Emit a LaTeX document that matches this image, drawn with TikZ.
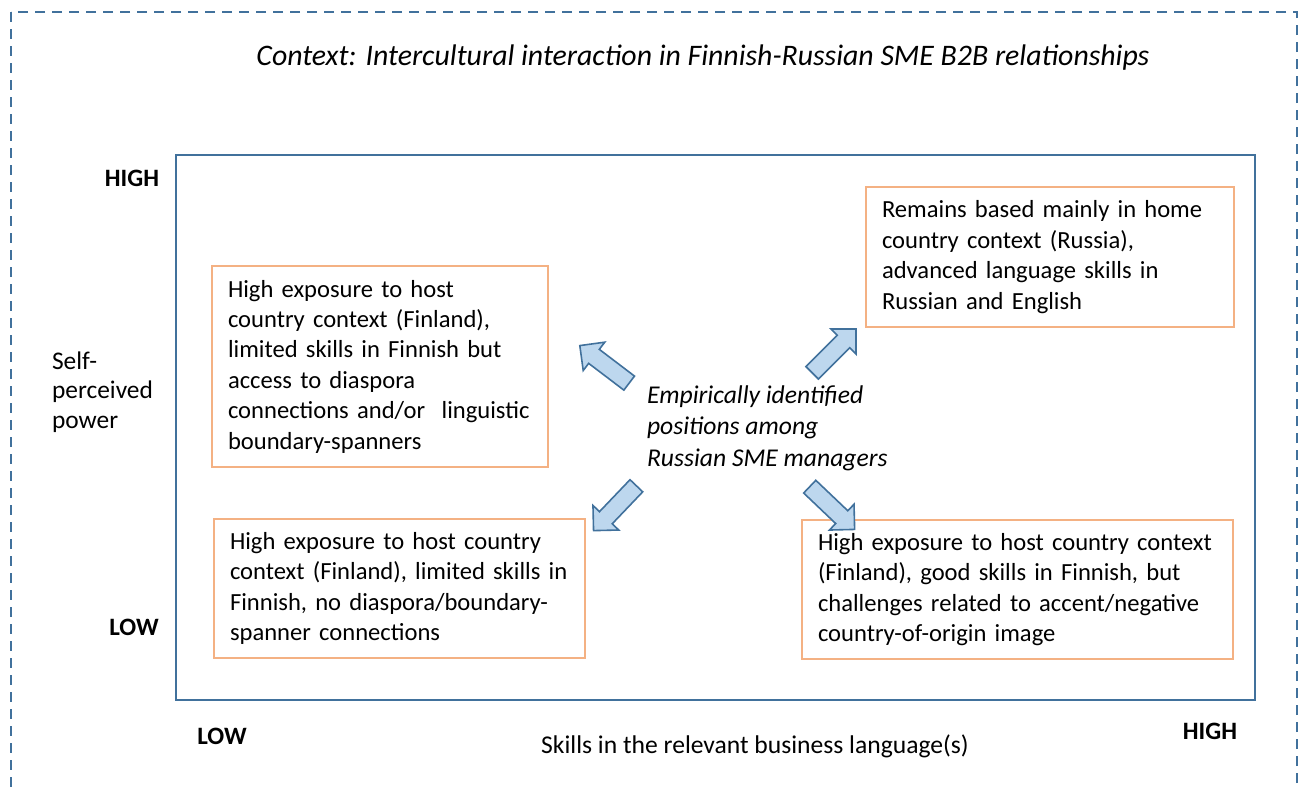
\documentclass[tikz,border=0pt]{standalone}
\usepackage{fontspec}
\setmainfont{Carlito}
\usetikzlibrary{shapes.arrows,positioning}

\definecolor{frameblue}{RGB}{65,113,156}
\definecolor{arrowfill}{RGB}{189,215,238}
\definecolor{boxorange}{RGB}{244,177,131}

\begin{document}
\begin{tikzpicture}[x=0.5pt,y=-0.5pt,
      every node/.style={font=\fontsize{12.3}{15.2}\selectfont},
      posbox/.style={draw=boxorange,line width=0.7pt,align=left,
                     inner xsep=8pt,inner ysep=0pt},
      axislabel/.style={font=\fontsize{12.5}{15.2}\selectfont\bfseries},
      blockarr/.style={single arrow,draw=frameblue,fill=arrowfill,
                       line width=0.8pt,inner sep=4pt,minimum width=17pt,
                       minimum height=31pt,single arrow head extend=4.5pt,
                       sloped,allow upside down}]

  \useasboundingbox (0,0) rectangle (1303,788);
  \clip (0,0) rectangle (1303,788);

  % frames
  \draw[frameblue,line width=0.75pt,dash pattern=on 5pt off 3.5pt]
        (11,12) rectangle (1297,800);
  \draw[frameblue,line width=1pt] (176,155) rectangle (1255,700);

  \node[font=\fontsize{14.9}{18}\selectfont\itshape] (context) at (703,58)
       {Context: Intercultural interaction in Finnish-Russian SME B2B relationships};

  % axes
  \node[axislabel] (yhigh) at (132,178) {HIGH};
  \node[axislabel] (ylow) at (134,627) {LOW};
  \node[anchor=west,align=left,font=\fontsize{12.7}{14.8}\selectfont]
       (ytitle) at (45,392) {Self-\\perceived\\power};
  \node[axislabel] (xlow) at (222,736) {LOW};
  \node[axislabel] (xhigh) at (1210,731) {HIGH};
  \node[font=\fontsize{12.8}{15.5}\selectfont] (xtitle) at (755,746)
       {Skills in the relevant business language(s)};

  % positions
  \node[posbox,text width=152pt,minimum height=100.5pt] (hostlink) at (380,366.5)
       {High exposure to host\\country context (Finland),\\limited skills in Finnish but\\
        access to diaspora\\connections and/or~ linguistic\\boundary-spanners};
  \node[posbox,text width=168pt,minimum height=70pt] (home) at (1050,257)
       {Remains based mainly in home\\country context (Russia),\\
        advanced language skills in\\Russian and English};
  \node[posbox,text width=169.5pt,minimum height=69.5pt] (hostnolink) at (399.5,588.5)
       {High exposure to host country\\context (Finland), limited skills in\\
        Finnish, no diaspora/boundary-\\spanner connections};
  \node[posbox,text width=199.5pt,minimum height=69.5pt] (hostgood) at (1017.5,589.5)
       {High exposure to host country context\\(Finland), good skills in Finnish, but\\
        challenges related to accent/negative\\country-of-origin image};

  \node[anchor=west,align=left,font=\fontsize{12.8}{15.75}\selectfont\itshape]
       (managers) at (640,428)
       {Empirically identified\\positions among\\Russian SME managers};

  % block arrows
  \coordinate (ul1) at (633,386);  \coordinate (ul2) at (583,348);
  \coordinate (ur1) at (809,376);  \coordinate (ur2) at (853,332);
  \coordinate (ll1) at (639,483);  \coordinate (ll2) at (597,527);
  \coordinate (lr1) at (808,485);  \coordinate (lr2) at (850,525);

  \path (ul1) -- (ul2) node[blockarr,midway] (arrul) {};
  \path (ur1) -- (ur2) node[blockarr,midway] (arrur) {};
  \path (ll1) -- (ll2) node[blockarr,midway] (arrll) {};
  \path (lr1) -- (lr2) node[blockarr,midway] (arrlr) {};

\end{tikzpicture}
\end{document}
